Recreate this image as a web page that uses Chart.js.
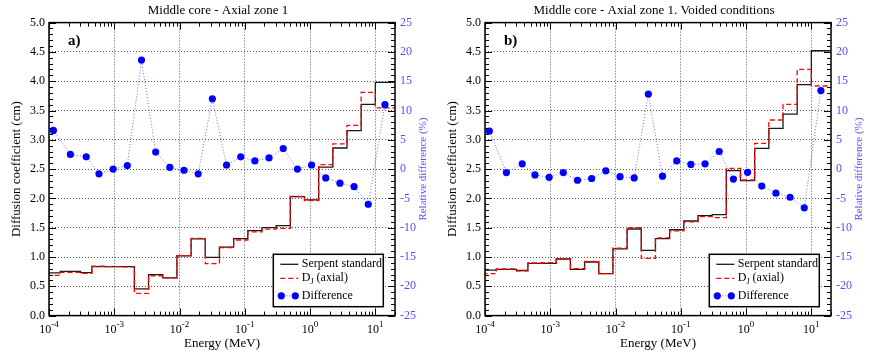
<!DOCTYPE html>
<html>
<head>
<meta charset="utf-8">
<script src="https://cdn.jsdelivr.net/npm/chart.js@4.4.1/dist/chart.umd.min.js"></script>
<style>
  body { margin: 0; background: #fff; }
  .row { display: flex; width: 872px; height: 354px; }
  .panel { width: 436px; height: 354px; }
</style>
</head>
<body>
<div class="row">
  <div class="panel"><canvas id="chartA" width="436" height="354"></canvas></div>
  <div class="panel"><canvas id="chartB" width="436" height="354"></canvas></div>
</div>
<script>
// ECCO 33-group boundaries (MeV), groups above 1e-4 MeV
const energyBounds = [9.166088e-5, 1.486254e-4, 3.043248e-4, 4.539993e-4, 7.485183e-4,
    1.234098e-3, 2.034684e-3, 3.354626e-3, 5.530844e-3, 9.118820e-3, 1.503439e-2,
    2.478752e-2, 4.086771e-2, 6.737947e-2, 1.110900e-1, 1.831564e-1, 3.019738e-1,
    4.978707e-1, 8.208500e-1, 1.353353, 2.231302, 3.678794, 6.065307, 10.0, 19.64033];

const xDecades = [1e-4, 1e-3, 1e-2, 1e-1, 1, 10];
const xExponents = ['-4', '-3', '-2', '-1', '0', '1'];

const seriesLabels = ['Serpent standard', 'D_J (axial)', 'Difference'];

// a) nominal conditions
const serpentA = [0.73, 0.755, 0.735, 0.835, 0.835, 0.835, 0.455, 0.70, 0.645, 1.02, 1.31, 0.995,
    1.17, 1.315, 1.45, 1.50, 1.535, 2.03, 1.975, 2.535, 2.86, 3.155, 3.605, 3.98];
const djA = [0.685, 0.737, 0.72, 0.842, 0.835, 0.83, 0.378, 0.68, 0.643, 1.022, 1.318, 0.888,
    1.162, 1.29, 1.43, 1.475, 1.487, 2.032, 1.962, 2.575, 2.93, 3.245, 3.81, 3.545];
const diffA = [6.6, 2.5, 2.1, -0.8, 0.0, 0.6, 18.6, 2.9, 0.3, -0.2, -0.8, 12.0,
    0.7, 2.1, 1.4, 1.9, 3.5, 0.0, 0.7, -1.5, -2.4, -3.0, -6.0, 11.0];

// b) voided conditions
const serpentB = [0.775, 0.79, 0.77, 0.89, 0.89, 0.966, 0.79, 0.915, 0.715, 1.137, 1.478, 1.114,
    1.312, 1.465, 1.614, 1.705, 1.722, 2.473, 2.302, 2.855, 3.196, 3.439, 3.94, 4.52];
const djB = [0.715, 0.795, 0.763, 0.898, 0.902, 0.972, 0.803, 0.927, 0.716, 1.15, 1.50, 0.978,
    1.325, 1.445, 1.60, 1.69, 1.671, 2.513, 2.314, 2.94, 3.338, 3.605, 4.202, 3.918];
const diffB = [6.5, -0.6, 0.9, -1.0, -1.4, -0.6, -1.9, -1.6, -0.3, -1.3, -1.5, 12.8,
    -1.2, 1.4, 0.8, 0.9, 3.0, -1.7, -0.55, -2.9, -4.1, -4.8, -6.6, 13.4];

const SERIF = "'Liberation Serif', 'Times New Roman', serif";
const BLUE = '#0000ff';
const AXIS_BLUE = '#5050ff';

// ticks pointing inwards on all four sides + black frame
const axisFrame = {
    id: 'axisFrame',
    afterDatasetsDraw(chart) {
        const {ctx, chartArea: a, scales: {x, y}} = chart;
        ctx.save();
        ctx.strokeStyle = '#000';
        ctx.lineWidth = 1;
        ctx.beginPath();
        for (let k = -4; k <= 1; k++) {
            for (let m = 1; m <= 9; m++) {
                const v = m * Math.pow(10, k);
                if (v < x.min || v > x.max) continue;
                const px = Math.round(x.getPixelForValue(v)) + 0.5;
                const len = m === 1 ? 7 : 4;
                ctx.moveTo(px, a.bottom); ctx.lineTo(px, a.bottom - len);
                ctx.moveTo(px, a.top); ctx.lineTo(px, a.top + len);
            }
        }
        for (let i = 0; i <= 50; i++) {
            const py = Math.round(y.getPixelForValue(i / 10)) + 0.5;
            const len = i % 5 === 0 ? 7 : 4;
            ctx.moveTo(a.left, py); ctx.lineTo(a.left + len, py);
            ctx.moveTo(a.right, py); ctx.lineTo(a.right - len, py);
        }
        ctx.stroke();
        ctx.lineWidth = 1.5;
        ctx.strokeRect(a.left, a.top, a.right - a.left, a.bottom - a.top);
        ctx.restore();
    }
};

// 10^n labels under the log axis, right axis title reading upwards
const axisText = {
    id: 'axisText',
    afterDraw(chart, args, opts) {
        const {ctx, chartArea: a, scales: {x, y2}} = chart;
        ctx.save();
        ctx.fillStyle = '#000';
        ctx.textBaseline = 'alphabetic';
        ctx.textAlign = 'left';
        xDecades.forEach((v, i) => {
            const px = x.getPixelForValue(v);
            ctx.font = `12px ${SERIF}`;
            const wBase = ctx.measureText('10').width;
            ctx.font = `9px ${SERIF}`;
            const wExp = ctx.measureText(xExponents[i]).width;
            const start = px - (wBase + wExp) / 2;
            ctx.font = `12px ${SERIF}`;
            ctx.fillText('10', start, 333);
            ctx.font = `9px ${SERIF}`;
            ctx.fillText(xExponents[i], start + wBase, 327);
        });

        ctx.translate(y2.right - 12.7, (a.top + a.bottom) / 2);
        ctx.rotate(-Math.PI / 2);
        ctx.textAlign = 'center';
        ctx.textBaseline = 'middle';
        ctx.fillStyle = AXIS_BLUE;
        ctx.font = `11px ${SERIF}`;
        ctx.fillText(opts.rightTitle, 0, 0);
        ctx.restore();
    }
};

// panel tag and boxed legend inside the plot area
const boxLegend = {
    id: 'boxLegend',
    afterDraw(chart, args, opts) {
        const {ctx, chartArea: a} = chart;
        ctx.save();
        ctx.fillStyle = '#000';
        ctx.font = `bold 15px ${SERIF}`;
        ctx.textBaseline = 'alphabetic';
        ctx.fillText(opts.tag, a.left + 19, 45);

        const left = a.right - 121.7, top = a.bottom - 61.3;
        const w = 110, h = 52.4;
        ctx.fillStyle = '#fff';
        ctx.fillRect(left, top, w, h);
        ctx.strokeStyle = '#000';
        ctx.lineWidth = 1.5;
        ctx.strokeRect(left, top, w, h);

        const rows = [10, 24, 41.5];
        chart.data.datasets.forEach((ds, i) => {
            const yy = top + rows[i];
            ctx.save();
            ctx.strokeStyle = ds.borderColor;
            ctx.lineWidth = ds.borderWidth;
            ctx.setLineDash(ds.borderDash || []);
            ctx.beginPath();
            ctx.moveTo(left + 7, yy);
            ctx.lineTo(left + 25, yy);
            ctx.stroke();
            if (ds.pointRadius) {
                ctx.fillStyle = ds.pointBackgroundColor;
                [left + 8, left + 22].forEach(cx => {
                    ctx.beginPath();
                    ctx.arc(cx, yy, ds.pointRadius, 0, Math.PI * 2);
                    ctx.fill();
                });
            }
            ctx.restore();

            ctx.fillStyle = '#000';
            ctx.textBaseline = 'middle';
            let tx = left + 28.5;
            const parts = ds.label.split('_');
            ctx.font = `12px ${SERIF}`;
            if (parts.length === 2) {
                ctx.fillText(parts[0], tx, yy);
                tx += ctx.measureText(parts[0]).width;
                ctx.font = `8px ${SERIF}`;
                ctx.fillText(parts[1].charAt(0), tx, yy + 4);
                tx += ctx.measureText(parts[1].charAt(0)).width;
                ctx.font = `12px ${SERIF}`;
                ctx.fillText(parts[1].slice(1), tx, yy);
            } else {
                ctx.fillText(ds.label, tx, yy);
            }
        });
        ctx.restore();
    }
};

function stepPoints(values) {
    const pts = values.map((v, i) => ({x: energyBounds[i], y: v}));
    pts.push({x: energyBounds[values.length], y: values[values.length - 1]});
    return pts;
}

function midPoints(values) {
    return values.map((v, i) => ({x: Math.sqrt(energyBounds[i] * energyBounds[i + 1]), y: v}));
}

function buildChart(canvasId, title, tag, serpent, dj, diff) {
    const gridDash = [1, 2];
    return new Chart(document.getElementById(canvasId), {
        type: 'line',
        data: {
            datasets: [
                {
                    label: seriesLabels[0], data: stepPoints(serpent), stepped: true,
                    borderColor: '#1a1a1a', borderWidth: 1.3, pointRadius: 0, yAxisID: 'y', order: 2
                },
                {
                    label: seriesLabels[1], data: stepPoints(dj), stepped: true,
                    borderColor: '#ff0000', borderDash: [5, 3], borderWidth: 1.3, pointRadius: 0,
                    yAxisID: 'y', order: 1
                },
                {
                    label: seriesLabels[2], data: midPoints(diff),
                    borderColor: '#6a6aff', borderDash: [1, 2], borderWidth: 1,
                    pointRadius: 3.6, pointBackgroundColor: BLUE, pointBorderWidth: 0,
                    yAxisID: 'y2', order: 0
                }
            ]
        },
        options: {
            responsive: false,
            animation: false,
            layout: {padding: 0},
            plugins: {
                legend: {display: false},
                tooltip: {enabled: false},
                title: {
                    display: true, text: title, color: '#000',
                    font: {family: SERIF, size: 13, weight: 'normal'},
                    padding: {top: 3, bottom: 4}
                },
                boxLegend: {tag: tag},
                axisText: {rightTitle: 'Relative difference (%)'}
            },
            scales: {
                x: {
                    type: 'logarithmic', min: 1e-4, max: 20, position: 'bottom',
                    afterBuildTicks: s => { s.ticks = xDecades.map(v => ({value: v})); },
                    afterFit: s => { s.height = 38.4; },
                    ticks: {display: false},
                    grid: {color: '#555', lineWidth: 1, drawTicks: false},
                    border: {display: false, dash: gridDash},
                    title: {
                        display: true, text: 'Energy (MeV)', color: '#000',
                        font: {family: SERIF, size: 13}, padding: {top: 0, bottom: 3}
                    }
                },
                y: {
                    min: 0, max: 5, position: 'left',
                    afterFit: s => { s.width = 49; },
                    ticks: {
                        stepSize: 0.5, color: '#000', padding: 4,
                        font: {family: SERIF, size: 12},
                        callback: v => v.toFixed(1)
                    },
                    grid: {color: '#555', lineWidth: 1, drawTicks: false},
                    border: {display: false, dash: gridDash},
                    title: {
                        display: true, text: 'Diffusion coefficient (cm)', color: '#000',
                        font: {family: SERIF, size: 13}, padding: {top: 9, bottom: 0}
                    }
                },
                y2: {
                    min: -25, max: 25, position: 'right',
                    afterFit: s => { s.width = 41; },
                    ticks: {stepSize: 5, color: AXIS_BLUE, padding: 5, font: {family: SERIF, size: 12}},
                    grid: {display: false, drawTicks: false},
                    border: {display: false}
                }
            }
        },
        plugins: [axisFrame, axisText, boxLegend]
    });
}

buildChart('chartA', 'Middle core - Axial zone 1', 'a)', serpentA, djA, diffA);
buildChart('chartB', 'Middle core - Axial zone 1. Voided conditions', 'b)', serpentB, djB, diffB);
</script>
</body>
</html>
